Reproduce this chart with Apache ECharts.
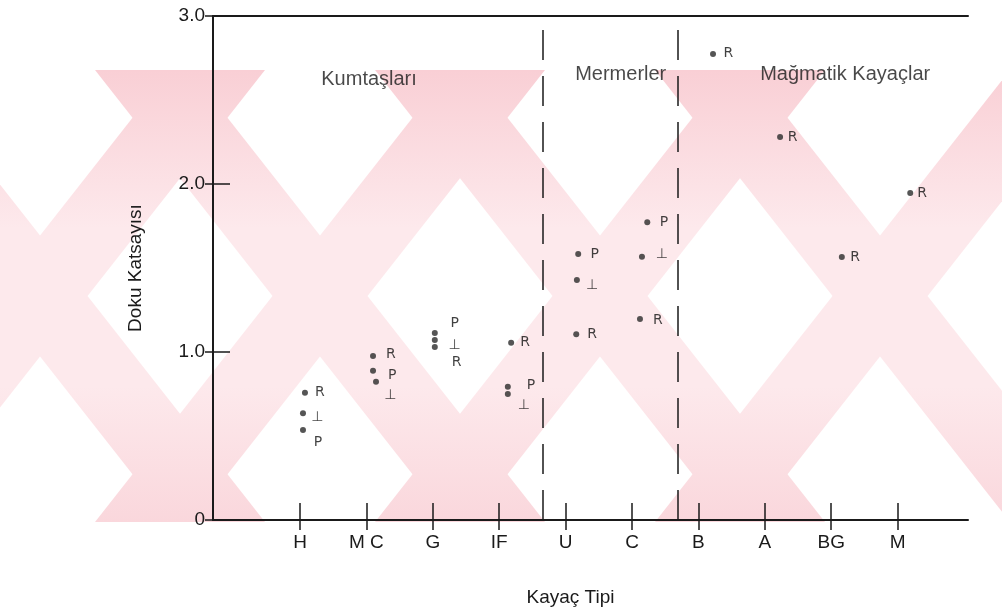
<!DOCTYPE html>
<html>
<head>
<meta charset="utf-8">
<script src="https://cdn.jsdelivr.net/npm/echarts@6/dist/echarts.min.js"></script>
<style>html,body{margin:0;padding:0;background:#fff;}#c{width:1002px;height:614px;}</style>
</head>
<body>
<div id="c"></div>
<script>
// ---- data ----
const categories = ['H', 'M C', 'G', 'IF', 'U', 'C', 'B', 'A', 'BG', 'M'];
const categoryPos = [0, 1, 2, 3, 4, 5, 6, 7, 8, 9];
const yTicks = [0, 1, 2, 3];

// measured points (x = position along rock-type axis, y = Doku Katsayısı)
const pointX = [0.075, 0.045, 0.045, 1.10, 1.10, 1.145, 2.03, 2.03, 2.03, 3.18, 3.13, 3.13,
                4.19, 4.17, 4.16, 5.23, 5.15, 5.12, 6.22, 7.23, 8.16, 9.19];
const pointY = [0.758, 0.635, 0.536, 0.976, 0.889, 0.823, 1.113, 1.071, 1.030, 1.055, 0.793, 0.750,
                1.583, 1.429, 1.105, 1.772, 1.567, 1.196, 2.774, 2.280, 1.565, 1.946];

// letter tags written beside the points
const tagText = ['R', '⊥', 'P', 'R', 'P', '⊥', 'P', '⊥', 'R', 'R', 'P', '⊥',
                 'P', '⊥', 'R', 'P', '⊥', 'R', 'R', 'R', 'R', 'R'];
const tagX = [0.30, 0.26, 0.27, 1.37, 1.39, 1.36, 2.33, 2.33, 2.36, 3.39, 3.48, 3.37,
              4.44, 4.40, 4.40, 5.48, 5.45, 5.39, 6.45, 7.42, 8.36, 9.37];
const tagY = [0.758, 0.613, 0.464, 0.988, 0.863, 0.744, 1.173, 1.042, 0.940, 1.060, 0.804, 0.685,
              1.583, 1.399, 1.107, 1.774, 1.583, 1.190, 2.780, 2.280, 1.565, 1.946];

// group separators and group titles
const separators = [3.645, 5.69];
const groupNames = ['Kumtaşları', 'Mermerler', 'Mağmatik Kayaçlar'];
const groupX = [1.04, 4.83, 8.21];
const groupY = [2.62, 2.65, 2.65];

const X_MIN = -1.31, X_MAX = 10.06;
const FONT = 'Liberation Sans, Arial, sans-serif';
const INK = '#1a1a1a';

const chart = echarts.init(document.getElementById('c'), null, {renderer: 'canvas'});

// watermark (decorative background X shapes)
const wmFill = {
  type: 'linear', x: 0, y: 0, x2: 0, y2: 1, global: false,
  colorStops: [
    {offset: 0, color: '#f9cfd5'},
    {offset: 0.35, color: '#fde9ec'},
    {offset: 0.7, color: '#fde9ec'},
    {offset: 1, color: '#fad7dc'}
  ]
};
function xShape(cx, cy, hw, hh, t) {
  return {
    type: 'group', silent: true, z: -10,
    children: [
      {type: 'polygon', silent: true,
       shape: {points: [[cx - hw, cy - hh], [cx - hw + t, cy - hh], [cx + hw, cy + hh], [cx + hw - t, cy + hh]]},
       style: {fill: wmFill}},
      {type: 'polygon', silent: true,
       shape: {points: [[cx + hw - t, cy - hh], [cx + hw, cy - hh], [cx - hw + t, cy + hh], [cx - hw, cy + hh]]},
       style: {fill: wmFill}}
    ]
  };
}
const wm = [40, 320, 600, 880].map(cx => xShape(cx, 296, 225, 226, 95));

chart.setOption({
  animation: false,
  backgroundColor: '#fff',
  graphic: wm,
  grid: {left: 213, right: 34, top: 16, bottom: 94, containLabel: false},
  xAxis: [
    {
      type: 'value', position: 'bottom', min: X_MIN, max: X_MAX,
      axisLine: {show: true, onZero: false, lineStyle: {color: INK, width: 2}},
      axisTick: {show: true, inside: false, length: 10, customValues: categoryPos, lineStyle: {color: INK, width: 1.5}},
      axisLabel: {show: true, customValues: categoryPos, formatter: v => categories[Math.round(v)],
                  color: INK, fontFamily: FONT, fontSize: 19, margin: 13},
      splitLine: {show: false},
      name: 'Kayaç Tipi', nameLocation: 'middle', nameGap: 68,
      nameTextStyle: {color: INK, fontFamily: FONT, fontSize: 19, padding: [0, 40, 0, 0]}
    },
    {
      type: 'value', position: 'bottom', min: X_MIN, max: X_MAX,
      axisLine: {show: false, onZero: false},
      axisTick: {show: true, inside: true, length: 17, customValues: categoryPos, lineStyle: {color: INK, width: 1.5}},
      axisLabel: {show: false}, splitLine: {show: false}
    },
    {
      type: 'value', position: 'top', min: X_MIN, max: X_MAX,
      axisLine: {show: true, onZero: false, lineStyle: {color: INK, width: 2}},
      axisTick: {show: false}, axisLabel: {show: false}, splitLine: {show: false}
    }
  ],
  yAxis: [
    {
      type: 'value', position: 'left', min: 0, max: 3, interval: 1,
      axisLine: {show: true, onZero: false, lineStyle: {color: INK, width: 2}},
      axisTick: {show: true, inside: false, length: 8, customValues: yTicks, lineStyle: {color: INK, width: 1.5}},
      axisLabel: {show: true, customValues: yTicks, formatter: v => (v === 0 ? '0' : v.toFixed(1)),
                  color: INK, fontFamily: FONT, fontSize: 19, margin: 8},
      splitLine: {show: false},
      name: 'Doku Katsayısı', nameLocation: 'middle', nameGap: 68, nameRotate: 90,
      nameTextStyle: {color: INK, fontFamily: FONT, fontSize: 19}
    },
    {
      type: 'value', position: 'left', min: 0, max: 3, interval: 1,
      axisLine: {show: false, onZero: false},
      axisTick: {show: true, inside: true, length: 17, customValues: [1, 2], lineStyle: {color: INK, width: 1.5}},
      axisLabel: {show: false}, splitLine: {show: false}
    }
  ],
  series: [
    {
      name: 'points', type: 'scatter', xAxisIndex: 0, yAxisIndex: 0,
      symbol: 'circle', symbolSize: 6,
      itemStyle: {color: '#2a2a2a'},
      data: pointX.map((x, i) => [x, pointY[i]]),
      markLine: {
        silent: true, symbol: ['none', 'none'], label: {show: false},
        lineStyle: {color: INK, width: 1.5, type: [30, 16]},
        data: separators.map(v => ({xAxis: v}))
      },
      z: 5
    },
    {
      name: 'tags', type: 'scatter', xAxisIndex: 0, yAxisIndex: 0,
      symbol: 'circle', symbolSize: 1, itemStyle: {color: 'rgba(0,0,0,0)'},
      data: tagX.map((x, i) => [x, tagY[i], tagText[i]]),
      label: {show: true, position: 'inside', formatter: p => p.data[2],
              color: '#111', fontFamily: 'DejaVu Sans, Liberation Sans, sans-serif', fontSize: 14},
      z: 6
    },
    {
      name: 'groups', type: 'scatter', xAxisIndex: 0, yAxisIndex: 0,
      symbol: 'circle', symbolSize: 1, itemStyle: {color: 'rgba(0,0,0,0)'},
      data: groupX.map((x, i) => [x, groupY[i], groupNames[i]]),
      label: {show: true, position: 'inside', formatter: p => p.data[2],
              color: INK, fontFamily: FONT, fontSize: 20},
      z: 6
    }
  ]
});
</script>
</body>
</html>
